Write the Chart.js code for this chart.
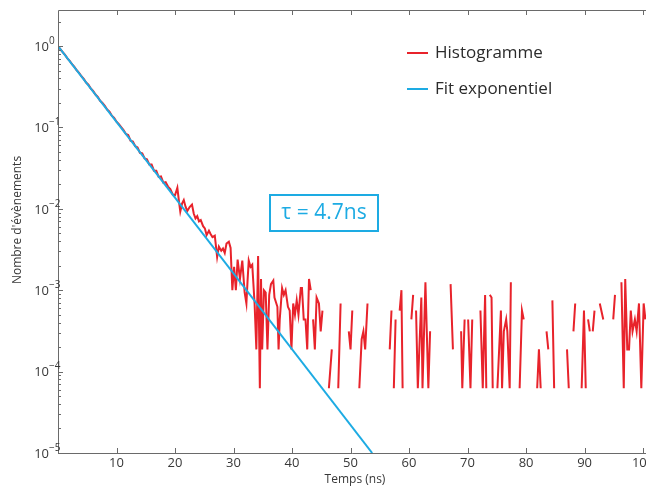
<!DOCTYPE html>
<html>
<head>
<meta charset="utf-8">
<script src="https://cdn.jsdelivr.net/npm/chart.js@4.4.1/dist/chart.umd.min.js"></script>
<style>
  html, body { margin: 0; padding: 0; background: #fff; }
  #wrap { width: 646px; height: 489px; }
</style>
</head>
<body>
<div id="wrap"><canvas id="c" width="646" height="489"></canvas></div>
<script>
// ---------- DATA ----------
// histogram: bin time (ns) and raw counts (null = empty bin -> gap on log axis)
const histT = [
  0, 0.4, 0.8, 1.2, 1.6, 2, 2.4, 2.8, 3.2, 3.6,
  4, 4.4, 4.8, 5.2, 5.6, 6, 6.4, 6.8, 7.2, 7.6,
  8, 8.4, 8.8, 9.2, 9.6, 10, 10.4, 10.8, 11.2, 11.6,
  12, 12.4, 12.8, 13.2, 13.6, 14, 14.4, 14.8, 15.2, 15.6,
  16, 16.4, 16.8, 17.2, 17.6, 18, 18.4, 18.8, 19.2, 19.6,
  20, 20.4, 20.7, 20.9, 21.2, 21.5, 21.8, 22.1, 22.5, 22.9,
  23.2, 23.5, 23.8, 24.1, 24.4, 24.8, 25.1, 25.4, 25.8, 26.1,
  26.4, 26.8, 27.2, 27.5, 27.9, 28.2, 28.5, 28.8, 29.2, 29.5,
  29.8, 30.1, 30.4, 30.7, 31.1, 31.5, 31.9, 32.2, 32.4, 32.6,
  32.9, 33.2, 33.6, 33.9, 34.2, 34.5, 34.7, 34.9, 35.2, 35.5,
  35.8, 36.1, 36.4, 36.8, 37, 37.5, 37.7, 37.9, 38.3, 38.6,
  38.9, 39.3, 39.6, 39.9, 40.2, 40.5, 40.8, 41.1, 41.5, 41.7,
  42, 42.3, 42.6, 42.9, 43.2, 43.4,
  43.6, 43.9, 44.2, 44.6, 44.9, 45.2, 45.8,
  46.3, 46.8, 47.3, 47.9, 48.3, 49, 49.7, 50, 50.3, 51,
  51.5, 51.9, 52.2, 52.5, 52.9, 55, 56.7, 57, 57.2,
  57.4, 57.7, 58, 58.4, 58.7, 58.9, 59.6, 60.4, 60.7, 61,
  61.2, 61.5, 62.1, 62.3, 62.8, 63.3, 63.6, 65,
  67.1, 67.5, 68, 68.9, 69.1, 69.5, 69.8,
  70.1, 70.5, 70.8, 71.5, 72.2, 72.6, 73, 73.2, 73.5,
  73.8, 74.1, 74.3, 74.7,
  75.1, 75.7, 75.9, 76.2, 76.6, 76.8, 77.2, 77.4, 78,
  78.9, 79.3, 79.6, 80.5, 81.9, 82.2, 82.5, 83,
  83.5, 83.8, 84.1, 84.5, 84.8, 86, 87, 87.3, 87.7,
  88.1, 88.4, 89, 89.5, 89.9, 90.2, 90.4,
  90.6, 90.9, 91.1, 91.4, 91.7, 92.2, 92.6, 93.2, 94,
  94.9, 95.2, 95.8,
  96.3, 96.7, 96.95, 97.3, 97.6, 97.9, 98.2, 98.6, 98.9, 99.3, 99.7, 100.1, 100.4
];
const histCounts = [
  16000, 14600, 13500, 12500, 11300, 10500, 9550, 8850, 8050, 7500,
  6800, 6300, 5700, 5350, 4800, 4500, 4050, 3800, 3400, 3200,
  2950, 2650, 2500, 2230, 2100, 1880, 1760, 1610, 1480, 1330,
  1290, 1100, 1070, 940, 910, 780, 770, 665, 650, 560,
  560, 470, 470, 395, 400, 335, 340, 300, 280, 240,
  235, 290, 190, 148, 185, 205, 170, 150, 168, 180,
  140, 122, 130, 112, 116, 98, 92, 76, 86, 78,
  72, 75, 41, 55, 49, 52, 46, 60, 63, 53,
  16, 31, 16, 38, 22, 37, 15, 11, 21, 37,
  31, 33, 11, 3, 42, 1, 22, 3, 16, 15,
  3, 14, 19, 21, 13, 10, 3, 7, 17, 14,
  16, 10, 9, 3, 11, 8, 12, 8, 17, 17,
  7, 7, 3, 22, 16, null,
  7, 3, 13, 11, 5, 9, null,
  1, 3, null, 1, 11, null, 5, 3, 9, null,
  1, 4, 5, 3, 11, null, 3, 9, null,
  1, 7, null, 9, 16, 1, null, 7, 14, null,
  9, 1, 13, 1, 20, 1, 5, null,
  19, 3, null, 5, 1, 7, null,
  7, 1, 7, null, 9, 1, 14, 1, null,
  14, 13, 1, null,
  1, 9, 1, 5, 7, 5, 1, 20, null,
  1, 9, 7, null, 1, 3, 1, null,
  5, 3, null, 12, 1, null, 3, 1, null,
  5, 11, null, 1, 9, 1, null,
  7, 5, null, 5, 9, null, 11, 7, null,
  7, 14, null,
  20, 1, 22, 3, 3, 9, 5, 7, 5, 11, 1, 11, 7
];
const histNorm = 16000; // counts of the first bin -> normalised to 1

// exponential fit (straight on log axis): end points
const fitT = [0, 53.7];
const fitY = [1, 1e-5];
const tauLabel = "τ = 4.7ns";

const xTicks = [10, 20, 30, 40, 50, 60, 70, 80, 90, 100];
const yExps = [0, -1, -2, -3, -4, -5];

const RED = "#e8232b";
const BLUE = "#1dabe3";
const AXIS = "#6a6a6a";
const TXT = "#383838";
const FONT = '"Open Sans", "DejaVu Sans", sans-serif';

// ---------- DRAW HELPERS ----------
const framePlugin = {
  id: "frame",
  afterDraw(chart) {
    const { ctx, chartArea: a, scales: { x, y } } = chart;
    ctx.save();
    ctx.strokeStyle = AXIS;
    ctx.lineWidth = 1;

    // box
    ctx.beginPath();
    ctx.moveTo(a.left + 0.5, a.top + 0.5);
    ctx.lineTo(a.left + 0.5, a.bottom + 0.5);
    ctx.lineTo(a.right, a.bottom + 0.5);
    ctx.moveTo(a.left + 0.5, a.top + 0.5);
    ctx.lineTo(a.right, a.top + 0.5);
    ctx.stroke();

    // x ticks (inward, bottom + top)
    ctx.beginPath();
    xTicks.forEach(v => {
      const px = Math.round(x.getPixelForValue(v)) + 0.5;
      ctx.moveTo(px, a.bottom); ctx.lineTo(px, a.bottom - 5);
      ctx.moveTo(px, a.top); ctx.lineTo(px, a.top + 5);
    });
    // y ticks, major + minor
    yExps.forEach(e => {
      const py = Math.round(y.getPixelForValue(Math.pow(10, e))) + 0.5;
      ctx.moveTo(a.left, py); ctx.lineTo(a.left + 5, py);
      for (let m = 2; m <= 9; m++) {
        const v = m * Math.pow(10, e);
        if (v > y.max) break;
        const pm = Math.round(y.getPixelForValue(v)) + 0.5;
        ctx.moveTo(a.left, pm); ctx.lineTo(a.left + 3, pm);
      }
    });
    ctx.stroke();

    // x labels
    ctx.fillStyle = TXT;
    ctx.font = "13px " + FONT;
    ctx.textAlign = "center";
    ctx.textBaseline = "middle";
    xTicks.forEach(v => ctx.fillText(String(v), x.getPixelForValue(v), a.bottom + 10));

    // y labels: 10 with superscript
    yExps.forEach(e => {
      const py = y.getPixelForValue(Math.pow(10, e));
      ctx.font = "13px " + FONT;
      ctx.textAlign = "right";
      ctx.fillText("10", a.left - 9, py + 1);
      ctx.font = "10px " + FONT;
      ctx.textAlign = "left";
      ctx.fillText(e === 0 ? "0" : "−" + (-e), a.left - 9, py - 5);
    });

    // axis titles
    ctx.font = "12px " + FONT;
    ctx.textAlign = "center";
    ctx.fillText("Temps (ns)", (a.left + a.right) / 2 + 3, 480);
    ctx.save();
    ctx.translate(18, 220);
    ctx.rotate(-Math.PI / 2);
    ctx.fillText("Nombre d'évènements", 0, 0);
    ctx.restore();

    // legend
    ctx.lineWidth = 2;
    ctx.font = "17px " + FONT;
    ctx.textAlign = "left";
    ctx.fillStyle = "#2b2b2b";
    [["Histogramme", RED, 53], ["Fit exponentiel", BLUE, 89]].forEach(([t, c, ly]) => {
      ctx.strokeStyle = c;
      ctx.beginPath(); ctx.moveTo(407, ly); ctx.lineTo(428, ly); ctx.stroke();
      ctx.fillText(t, 435, ly);
    });

    // tau box
    ctx.strokeStyle = BLUE;
    ctx.lineWidth = 2;
    ctx.strokeRect(270, 195, 108, 36);
    ctx.fillStyle = BLUE;
    ctx.font = "21px " + FONT;
    ctx.textAlign = "center";
    ctx.fillText(tauLabel, 324, 213);
    ctx.restore();
  }
};

// ---------- CHART ----------
const histData = histT.map((t, i) => ({ x: t, y: histCounts[i] == null ? null : histCounts[i] / histNorm }));
const fitData = fitT.map((t, i) => ({ x: t, y: fitY[i] }));

new Chart(document.getElementById("c"), {
  type: "line",
  data: {
    datasets: [
      { label: "Fit exponentiel", data: fitData, borderColor: BLUE, borderWidth: 2, pointRadius: 0, tension: 0 },
      { label: "Histogramme", data: histData, borderColor: RED, borderWidth: 2, pointRadius: 0, tension: 0, spanGaps: false }
    ]
  },
  options: {
    responsive: false,
    animation: false,
    devicePixelRatio: 1,
    layout: { padding: { left: 58, top: 10, right: 0, bottom: 36 } },
    plugins: { legend: { display: false }, tooltip: { enabled: false } },
    scales: {
      x: { type: "linear", min: 0, max: 100.5, display: false },
      y: { type: "logarithmic", min: 1e-5, max: 2.77, display: false }
    }
  },
  plugins: [framePlugin]
});
</script>
</body>
</html>
